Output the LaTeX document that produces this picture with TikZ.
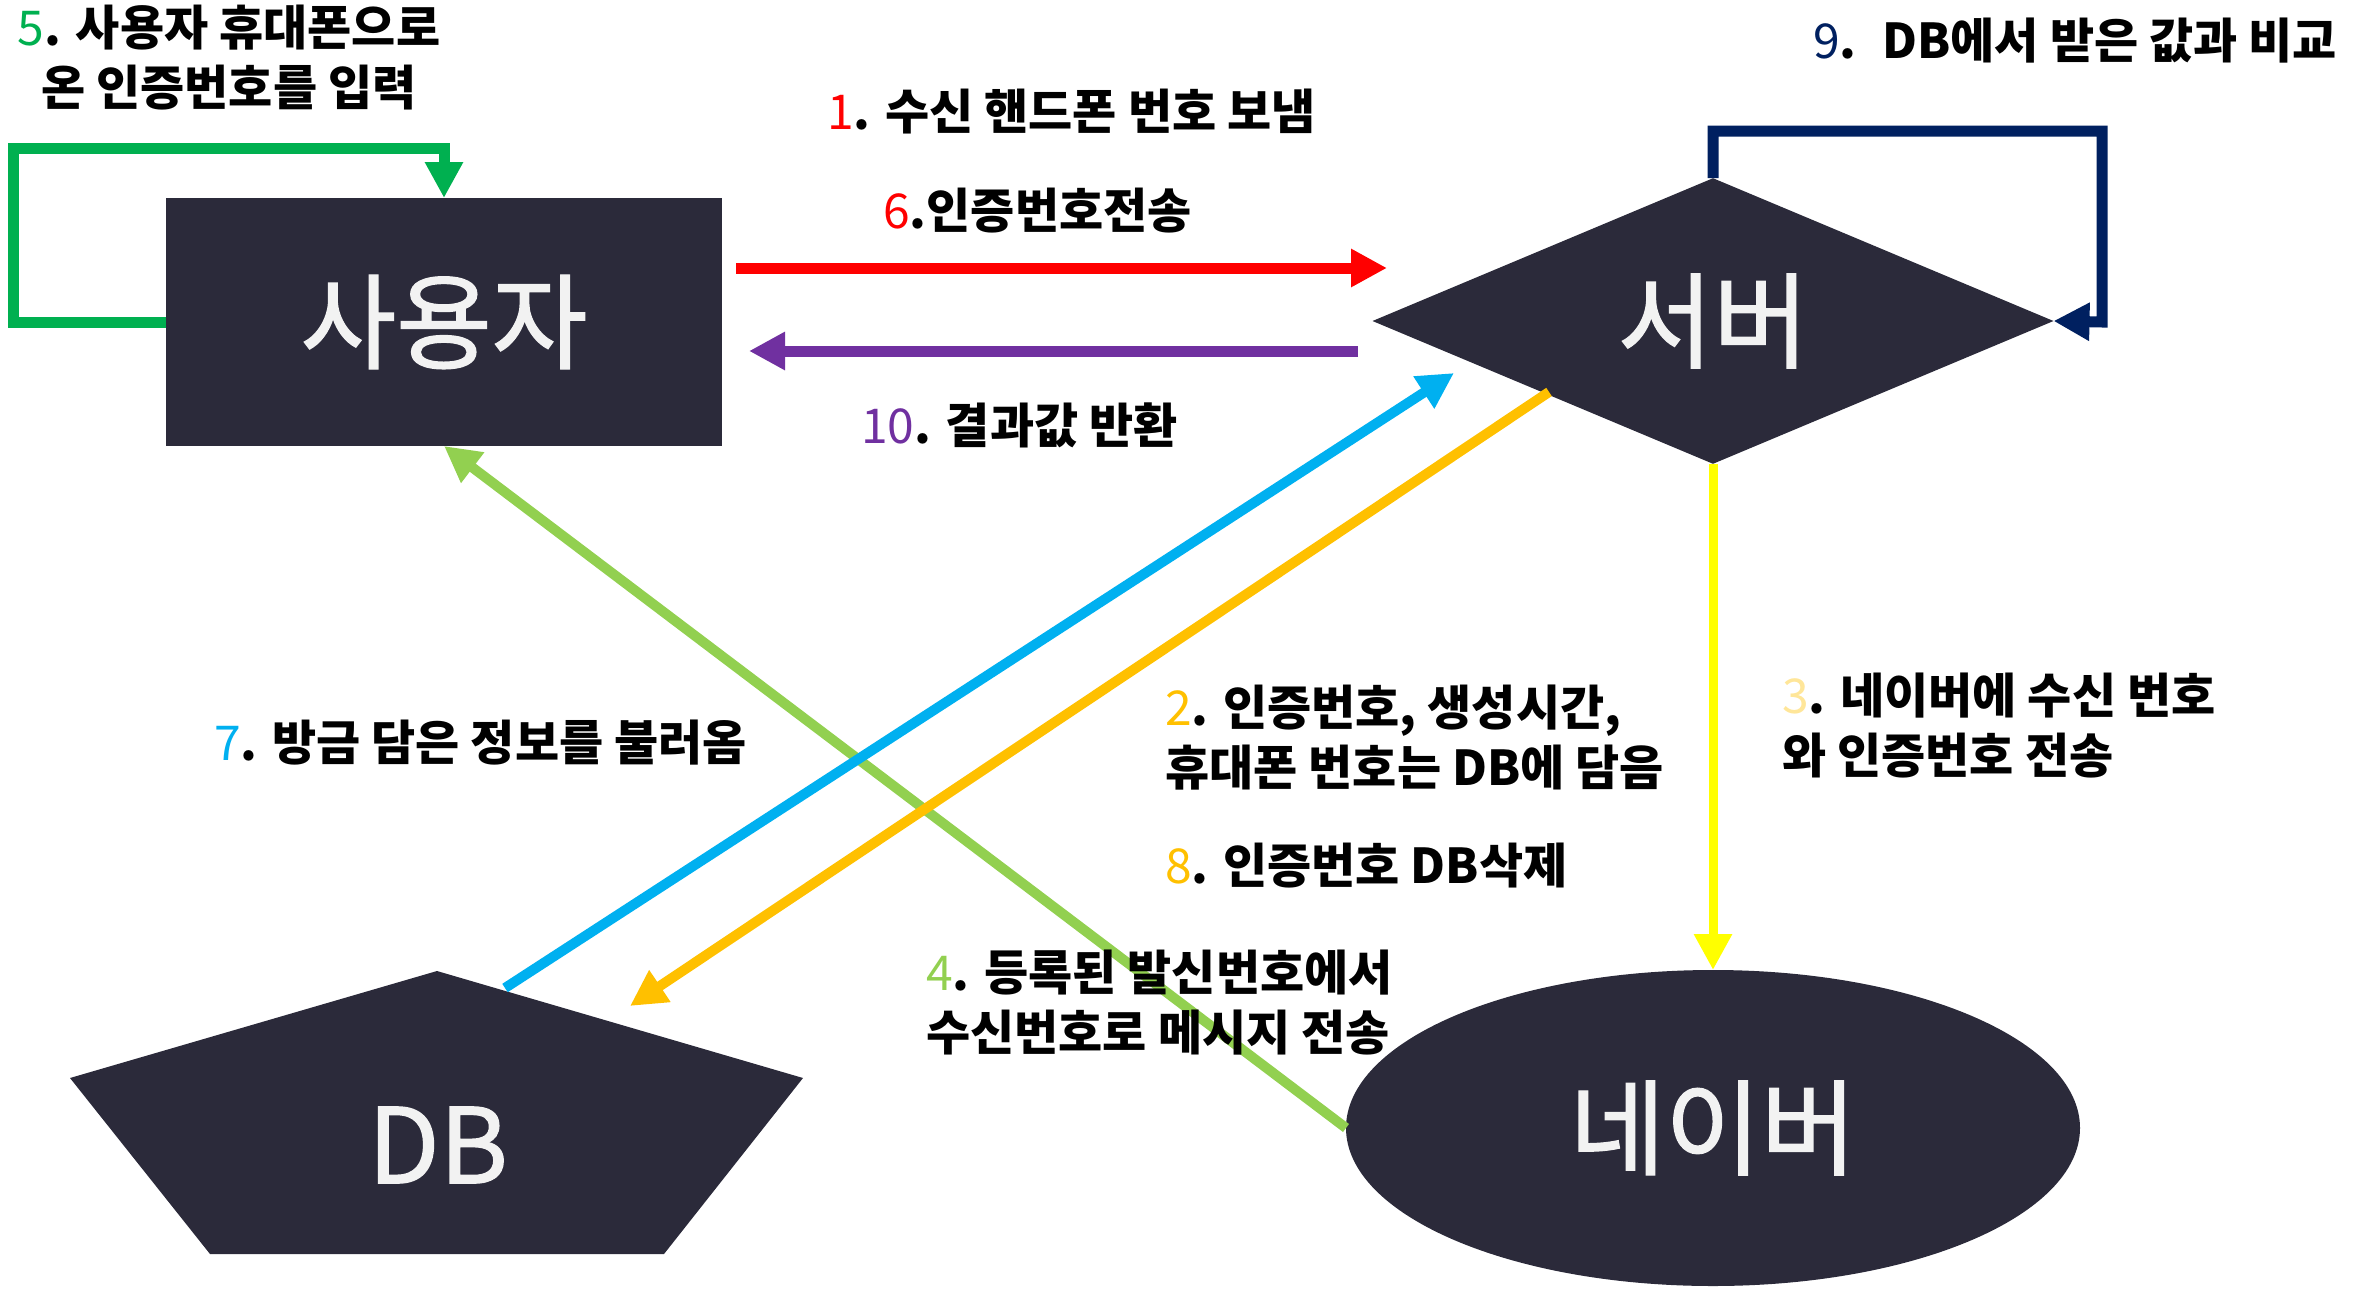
\documentclass[tikz,border=0pt]{standalone}
\usepackage{fontspec}
\setmainfont{Noto Sans CJK KR}
\newfontfamily\bigfont[FakeBold=1.3]{Noto Sans CJK KR}
\usetikzlibrary{arrows.meta,shapes.geometric}
\definecolor{shapebg}{HTML}{2B2A3A}
\definecolor{shapetext}{HTML}{F2F2F2}
\definecolor{cred}{HTML}{FF0000}
\definecolor{cpurple}{HTML}{7030A0}
\definecolor{cgreen}{HTML}{00B050}
\definecolor{cnavy}{HTML}{002060}
\definecolor{cblue}{HTML}{00B0F0}
\definecolor{corange}{HTML}{FFC000}
\definecolor{clgreen}{HTML}{92D050}
\definecolor{cyellow}{HTML}{FFFF00}
\definecolor{clyellow}{HTML}{FFE699}
\tikzset{
  shapenode/.style={fill=shapebg, draw=none, text=shapetext, inner sep=0pt, outer sep=0pt,
    font=\bigfont\fontsize{104}{110}\selectfont},
  lbl/.style={font=\bfseries\fontsize{48}{60}\selectfont, text=black, inner sep=0pt, align=left},
  conn/.style={line width=11pt, line join=miter, -{Triangle[length=36pt,width=36pt]}},
}
\newcommand{\numc}[2]{{\color{#1}\mdseries #2}}
\begin{document}
\begin{tikzpicture}[x=1pt,y=-1pt]
\useasboundingbox (0,0) rectangle (2369,1290);

% shapes
\node[shapenode, rectangle, minimum width=556pt, minimum height=248pt] (user) at (444,322) {\raisebox{-6pt}{사용자}};
\node[shapenode, diamond, minimum width=681pt, minimum height=283pt] (server) at (1713,321) {서버};
\node[shapenode, ellipse, minimum width=734pt, minimum height=316pt] (naver) at (1713,1128) {네이버};
\fill[shapebg] (437,971) -- (803,1078) -- (664,1254) -- (210,1254) -- (70,1078) -- cycle;
\node[shapenode, fill=none] (db) at (438,1145) {DB};

% named end points
\coordinate (r1) at (736,268);
\coordinate (r2) at (1387,268);
\coordinate (p1) at (1358,351);
\coordinate (p2) at (749,351);
\coordinate (g1) at (13,322);
\coordinate (g2) at (13,148);
\coordinate (g3) at (444,148);
\coordinate (n1) at (1713,131);
\coordinate (n2) at (2102,131);
\coordinate (n3) at (2102,322);
\coordinate (b1) at (505,988);
\coordinate (b2) at (1454,373);
\coordinate (o1) at (1549,392);
\coordinate (o2) at (630,1006);

% connectors
\draw[conn, cred] (r1) -- (r2);
\draw[conn, cpurple] (p1) -- (p2);
\draw[conn, cgreen] (user.west) -- (g1) -- (g2) -- (g3) -- (user.north);
\draw[conn, cnavy] (server.north) -- (n1) -- (n2) -- (n3) -- (server.east);
\draw[conn, clgreen, line width=10pt] (naver.west) -- (user.south);
\draw[conn, cblue, line width=10pt] (b1) -- (b2);
\draw[conn, corange, line width=10pt] (o1) -- (o2);
\draw[conn, cyellow, line width=9pt] (server.south) -- (naver.north);

% labels
\node[lbl, align=center] (t5) at (229,58) {\numc{cgreen}{5}. 사용자 휴대폰으로\\ 온 인증번호를 입력};
\node[lbl, anchor=west] (t1) at (827,112) {\numc{cred}{1}. 수신 핸드폰 번호 보냄};
\node[lbl, anchor=west] (t6) at (883,211) {\numc{cred}{6}.인증번호전송};
\node[lbl, anchor=west] (t10) at (861,425) {\numc{cpurple}{10}. 결과값 반환};
\node[lbl, anchor=west] (t9) at (1813,41) {\numc{cnavy}{9}.~ DB에서 받은 값과 비교};
\node[lbl, anchor=west] (t7) at (214,743) {\numc{cblue}{7}. 방금 담은 정보를 불러옴};
\node[lbl, anchor=west] (t2) at (1165,738) {\numc{corange}{2}. 인증번호, 생성시간,\\휴대폰 번호는 DB에 담음};
\node[lbl, anchor=west] (t8) at (1165,866) {\numc{corange}{8}. 인증번호 DB삭제};
\node[lbl, anchor=west] (t4) at (926,1003) {\numc{clgreen}{4}. 등록된 발신번호에서\\수신번호로 메시지 전송};
\node[lbl, anchor=west] (t3) at (1782,726) {\numc{clyellow}{3}. 네이버에 수신 번호\\와 인증번호 전송};
\end{tikzpicture}
\end{document}
